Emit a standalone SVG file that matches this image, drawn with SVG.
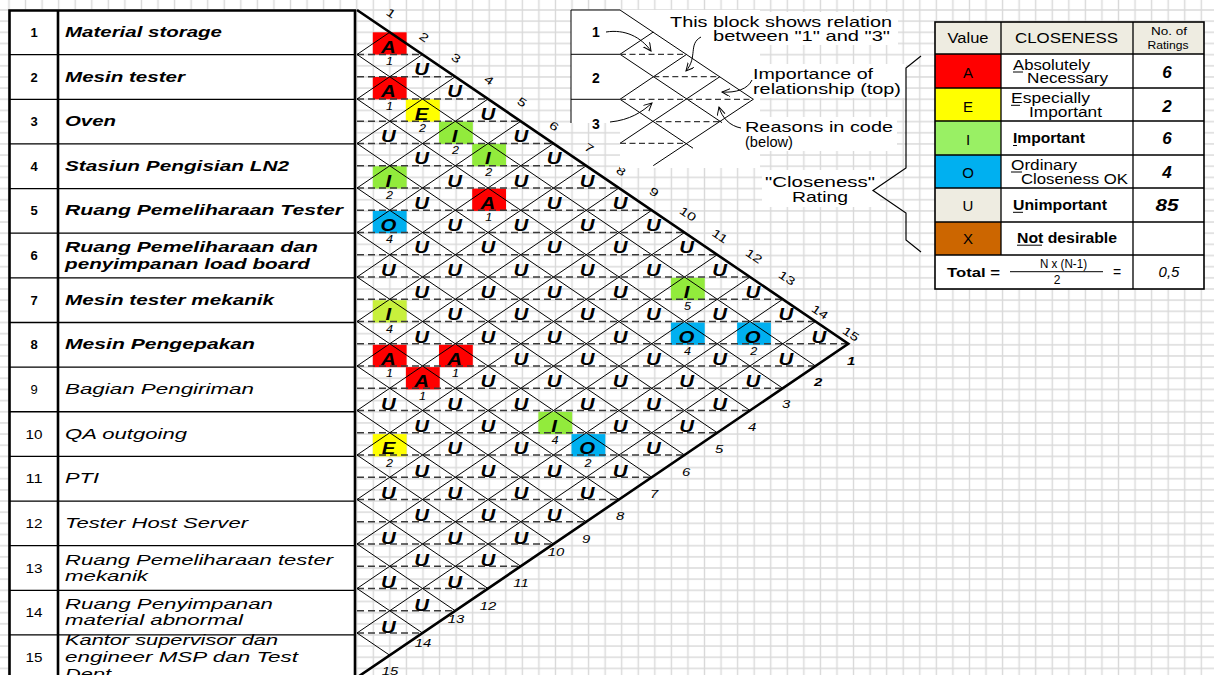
<svg xmlns="http://www.w3.org/2000/svg" width="1214" height="675" viewBox="0 0 1214 675">
<defs>
<pattern id="grid" patternUnits="userSpaceOnUse" x="365.02" y="4.42" width="16.56" height="11.16">
<path d="M8.28,0V11.16M0,5.58H16.56" stroke="#d9d9d9" stroke-width="1.4" fill="none"/>
</pattern>
<marker id="ah" markerUnits="userSpaceOnUse" markerWidth="10" markerHeight="10" refX="8" refY="4" orient="auto">
<path d="M0,0L8,4L0,8" fill="none" stroke="#000" stroke-width="1"/>
</marker>
<style>
text{font-family:"Liberation Sans",Arial,sans-serif;fill:#000}
.nm{font-size:14px;font-style:italic}
.b{font-weight:bold}
.no{font-size:13px;text-anchor:middle}
.ltr{font-size:17px;font-weight:bold;font-style:italic;text-anchor:middle}
.rsn{font-size:10.5px;font-style:italic;text-anchor:middle}
.tn{font-size:11.5px;text-anchor:middle}
.bn{font-size:11px;font-style:italic;text-anchor:middle}
.cap{font-size:15px}
.lg{font-size:14px}
.lgc{font-size:15px;text-anchor:middle}
.rt{font-size:17px;font-style:italic;font-weight:bold;text-anchor:middle}
.rti{font-style:italic;text-anchor:middle}
.thin{stroke:#000;stroke-width:1;fill:none}
.rowl{stroke:#000;stroke-width:1.3;fill:none}
.thick{stroke:#000;stroke-width:2.6;fill:none}
.dash{stroke:#3a3a3a;stroke-width:1.3;stroke-dasharray:7 4;fill:none}
.dash2{stroke:#3a3a3a;stroke-width:1.2;stroke-dasharray:6 3.5;fill:none}
.A{fill:#ff0000}.E{fill:#ffff00}.I{fill:#92eb3c}.I2{fill:#c8f03c}.O{fill:#00b0f0}
</style>
</defs>
<rect width="1214" height="675" fill="#fff"/>
<rect width="1214" height="675" fill="url(#grid)"/>

<g id="table">
<rect x="9.5" y="10.5" width="345.5" height="670" fill="#fff"/>
<path class="rowl" d="M9.5,54.64H355M9.5,99.28H355M9.5,143.92H355M9.5,188.56H355M9.5,233.2H355M9.5,277.84H355M9.5,322.48H355M9.5,367.12H355M9.5,411.76H355M9.5,456.4H355M9.5,501.04H355M9.5,545.68H355M9.5,590.32H355M9.5,634.96H355"/>
<path class="thick" d="M9.5,680V10.5H355V680M58,10.5V680"/>
<g id="row1"><text class="no b" x="34" y="36.8">1</text><text class="nm b" x="65" y="36.8" textLength="157" lengthAdjust="spacingAndGlyphs">Material storage</text></g>
<g id="row2"><text class="no b" x="34" y="81.5">2</text><text class="nm b" x="65" y="81.5" textLength="120" lengthAdjust="spacingAndGlyphs">Mesin tester</text></g>
<g id="row3"><text class="no b" x="34" y="126.1">3</text><text class="nm b" x="65" y="126.1" textLength="51" lengthAdjust="spacingAndGlyphs">Oven</text></g>
<g id="row4"><text class="no b" x="34" y="170.7">4</text><text class="nm b" x="65" y="170.7" textLength="224" lengthAdjust="spacingAndGlyphs">Stasiun Pengisian LN2</text></g>
<g id="row5"><text class="no b" x="34" y="215.4">5</text><text class="nm b" x="65" y="215.4" textLength="278" lengthAdjust="spacingAndGlyphs">Ruang Pemeliharaan Tester</text></g>
<g id="row6"><text class="no b" x="34" y="260">6</text><text class="nm b" x="65" y="252.3" textLength="253" lengthAdjust="spacingAndGlyphs">Ruang Pemeliharaan dan</text><text class="nm b" x="65" y="268.8" textLength="245" lengthAdjust="spacingAndGlyphs">penyimpanan load board</text></g>
<g id="row7"><text class="no b" x="34" y="304.7">7</text><text class="nm b" x="65" y="304.7" textLength="209" lengthAdjust="spacingAndGlyphs">Mesin tester mekanik</text></g>
<g id="row8"><text class="no b" x="34" y="349.3">8</text><text class="nm b" x="65" y="349.3" textLength="190" lengthAdjust="spacingAndGlyphs">Mesin Pengepakan</text></g>
<g id="row9"><text class="no" x="34" y="393.9">9</text><text class="nm" x="65" y="393.9" textLength="189" lengthAdjust="spacingAndGlyphs">Bagian Pengiriman</text></g>
<g id="row10"><text class="no" x="34" y="438.6" textLength="17" lengthAdjust="spacingAndGlyphs">10</text><text class="nm" x="65" y="438.6" textLength="122" lengthAdjust="spacingAndGlyphs">QA outgoing</text></g>
<g id="row11"><text class="no" x="34" y="483.2" textLength="17" lengthAdjust="spacingAndGlyphs">11</text><text class="nm" x="65" y="483.2" textLength="34" lengthAdjust="spacingAndGlyphs">PTI</text></g>
<g id="row12"><text class="no" x="34" y="527.9" textLength="17" lengthAdjust="spacingAndGlyphs">12</text><text class="nm" x="65" y="527.9" textLength="183" lengthAdjust="spacingAndGlyphs">Tester Host Server</text></g>
<g id="row13"><text class="no" x="34" y="572.5" textLength="17" lengthAdjust="spacingAndGlyphs">13</text><text class="nm" x="65" y="565" textLength="268" lengthAdjust="spacingAndGlyphs">Ruang Pemeliharaan tester</text><text class="nm" x="65" y="580.5" textLength="83" lengthAdjust="spacingAndGlyphs">mekanik</text></g>
<g id="row14"><text class="no" x="34" y="617.1" textLength="17" lengthAdjust="spacingAndGlyphs">14</text><text class="nm" x="65" y="609" textLength="208" lengthAdjust="spacingAndGlyphs">Ruang Penyimpanan</text><text class="nm" x="65" y="625" textLength="178" lengthAdjust="spacingAndGlyphs">material abnormal</text></g>
<g id="row15"><text class="no" x="34" y="661.8" textLength="17" lengthAdjust="spacingAndGlyphs">15</text><text class="nm" x="65" y="645" textLength="213" lengthAdjust="spacingAndGlyphs">Kantor supervisor dan</text><text class="nm" x="65" y="662" textLength="233" lengthAdjust="spacingAndGlyphs">engineer MSP dan Test</text><text class="nm" x="65" y="679" textLength="46" lengthAdjust="spacingAndGlyphs">Dept</text></g>
</g>

<g id="matrix">
<g id="cells">
<rect class="A" x="372.8" y="32.3" width="33.8" height="22.32"/>
<rect class="A" x="372.8" y="77" width="33.8" height="22.32"/>
<rect class="A" x="472.2" y="188.6" width="33.8" height="22.32"/>
<rect class="A" x="372.8" y="344.8" width="33.8" height="22.32"/>
<rect class="A" x="439" y="344.8" width="33.8" height="22.32"/>
<rect class="A" x="405.9" y="367.1" width="33.8" height="22.32"/>
<rect class="E" x="405.9" y="99.3" width="33.8" height="22.32"/>
<rect class="E" x="372.8" y="434.1" width="33.8" height="22.32"/>
<rect class="I" x="372.8" y="166.2" width="33.8" height="22.32"/>
<rect class="I" x="439" y="121.6" width="33.8" height="22.32"/>
<rect class="I" x="472.2" y="143.9" width="33.8" height="22.32"/>
<rect class="I2" x="372.8" y="300.2" width="33.8" height="22.32"/>
<rect class="I" x="670.9" y="277.8" width="33.8" height="22.32"/>
<rect class="I" x="538.4" y="411.8" width="33.8" height="22.32"/>
<rect class="O" x="372.8" y="210.9" width="33.8" height="22.32"/>
<rect class="O" x="670.9" y="322.5" width="33.8" height="22.32"/>
<rect class="O" x="737.1" y="322.5" width="33.8" height="22.32"/>
<rect class="O" x="571.5" y="434.1" width="33.8" height="22.32"/>
</g>
<g id="connectors">
<path class="dash" d="M357,54.5H422.5M357,76.75H455.25M357,99H488M357,121.25H520.75M357,143.5H553.5M357,165.75H586.25M357,188H619M357,210.25H651.75M357,232.5H684.5M357,254.75H717.25M357,277H750M357,299.25H782.75M357,321.5H815.5M357,343.75H848.25M357,366H815.5M357,388.25H782.75M357,410.5H750M357,432.75H717.25M357,455H684.5M357,477.25H651.75M357,499.5H619M357,521.75H586.25M357,544H553.5M357,566.25H520.75M357,588.5H488M357,610.75H455.25M357,633H422.5"/>
<path class="thin" d="M357,54.5L815.5,366M357,99L782.75,388.25M357,143.5L750,410.5M357,188L717.25,432.75M357,232.5L684.5,455M357,277L651.75,477.25M357,321.5L619,499.5M357,366L586.25,521.75M357,410.5L553.5,544M357,455L520.75,566.25M357,499.5L488,588.5M357,544L455.25,610.75M357,588.5L422.5,633M357,633L389.75,655.25"/>
<path class="thin" d="M357,54.5L389.75,32.25M357,99L422.5,54.5M357,143.5L455.25,76.75M357,188L488,99M357,232.5L520.75,121.25M357,277L553.5,143.5M357,321.5L586.25,165.75M357,366L619,188M357,410.5L651.75,210.25M357,455L684.5,232.5M357,499.5L717.25,254.75M357,544L750,277M357,588.5L782.75,299.25M357,633L815.5,321.5"/>
<path class="thick" d="M357,10L848.25,343.75L357,677.5"/>
</g>
<g id="letters" transform="scale(1.2,1)">
<text class="ltr" x="323.7" y="52.6">A</text><text class="rsn" x="324.5" y="64.9">1</text>
<text class="ltr" x="323.7" y="97.3">A</text><text class="rsn" x="324.5" y="109.6">1</text>
<text class="ltr" x="406.5" y="208.9">A</text><text class="rsn" x="407.3" y="221.2">1</text>
<text class="ltr" x="323.7" y="365.1">A</text><text class="rsn" x="324.5" y="377.4">1</text>
<text class="ltr" x="378.8" y="365.1">A</text><text class="rsn" x="379.6" y="377.4">1</text>
<text class="ltr" x="351.3" y="387.4">A</text><text class="rsn" x="352.1" y="399.7">1</text>
<text class="ltr" x="351.3" y="119.6">E</text><text class="rsn" x="352.1" y="131.9">2</text>
<text class="ltr" x="323.7" y="454.4">E</text><text class="rsn" x="324.5" y="466.7">2</text>
<text class="ltr" x="323.7" y="186.6">I</text><text class="rsn" x="324.5" y="198.9">2</text>
<text class="ltr" x="378.8" y="141.9">I</text><text class="rsn" x="379.6" y="154.2">2</text>
<text class="ltr" x="406.5" y="164.2">I</text><text class="rsn" x="407.3" y="176.5">2</text>
<text class="ltr" x="323.7" y="320.5">I</text><text class="rsn" x="324.5" y="332.8">4</text>
<text class="ltr" x="572.1" y="298.2">I</text><text class="rsn" x="572.9" y="310.5">5</text>
<text class="ltr" x="461.7" y="432.1">I</text><text class="rsn" x="462.5" y="444.4">4</text>
<text class="ltr" x="323.7" y="231.2">O</text><text class="rsn" x="324.5" y="243.5">4</text>
<text class="ltr" x="572.1" y="342.8">O</text><text class="rsn" x="572.9" y="355.1">4</text>
<text class="ltr" x="627.3" y="342.8">O</text><text class="rsn" x="628.1" y="355.1">2</text>
<text class="ltr" x="489.3" y="454.4">O</text><text class="rsn" x="490.1" y="466.7">2</text>
<text class="ltr" x="351.3" y="75">U</text>
<text class="ltr" x="378.8" y="97.3">U</text>
<text class="ltr" x="406.5" y="119.6">U</text>
<text class="ltr" x="323.7" y="141.9">U</text><text class="ltr" x="434.1" y="141.9">U</text>
<text class="ltr" x="351.3" y="164.2">U</text><text class="ltr" x="461.7" y="164.2">U</text>
<text class="ltr" x="378.8" y="186.6">U</text><text class="ltr" x="434.1" y="186.6">U</text><text class="ltr" x="489.3" y="186.6">U</text>
<text class="ltr" x="351.3" y="208.9">U</text><text class="ltr" x="461.7" y="208.9">U</text><text class="ltr" x="516.8" y="208.9">U</text>
<text class="ltr" x="378.8" y="231.2">U</text><text class="ltr" x="434.1" y="231.2">U</text><text class="ltr" x="489.3" y="231.2">U</text><text class="ltr" x="544.5" y="231.2">U</text>
<text class="ltr" x="351.3" y="253.5">U</text><text class="ltr" x="406.5" y="253.5">U</text><text class="ltr" x="461.7" y="253.5">U</text><text class="ltr" x="516.8" y="253.5">U</text><text class="ltr" x="572.1" y="253.5">U</text>
<text class="ltr" x="323.7" y="275.8">U</text><text class="ltr" x="378.8" y="275.8">U</text><text class="ltr" x="434.1" y="275.8">U</text><text class="ltr" x="489.3" y="275.8">U</text><text class="ltr" x="544.5" y="275.8">U</text><text class="ltr" x="599.7" y="275.8">U</text>
<text class="ltr" x="351.3" y="298.2">U</text><text class="ltr" x="406.5" y="298.2">U</text><text class="ltr" x="461.7" y="298.2">U</text><text class="ltr" x="516.8" y="298.2">U</text><text class="ltr" x="627.3" y="298.2">U</text>
<text class="ltr" x="378.8" y="320.5">U</text><text class="ltr" x="434.1" y="320.5">U</text><text class="ltr" x="489.3" y="320.5">U</text><text class="ltr" x="544.5" y="320.5">U</text><text class="ltr" x="599.7" y="320.5">U</text><text class="ltr" x="654.8" y="320.5">U</text>
<text class="ltr" x="351.3" y="342.8">U</text><text class="ltr" x="406.5" y="342.8">U</text><text class="ltr" x="461.7" y="342.8">U</text><text class="ltr" x="516.8" y="342.8">U</text><text class="ltr" x="682.4" y="342.8">U</text>
<text class="ltr" x="434.1" y="365.1">U</text><text class="ltr" x="489.3" y="365.1">U</text><text class="ltr" x="544.5" y="365.1">U</text><text class="ltr" x="599.7" y="365.1">U</text><text class="ltr" x="654.8" y="365.1">U</text>
<text class="ltr" x="406.5" y="387.4">U</text><text class="ltr" x="461.7" y="387.4">U</text><text class="ltr" x="516.8" y="387.4">U</text><text class="ltr" x="572.1" y="387.4">U</text><text class="ltr" x="627.3" y="387.4">U</text>
<text class="ltr" x="323.7" y="409.8">U</text><text class="ltr" x="378.8" y="409.8">U</text><text class="ltr" x="434.1" y="409.8">U</text><text class="ltr" x="489.3" y="409.8">U</text><text class="ltr" x="544.5" y="409.8">U</text><text class="ltr" x="599.7" y="409.8">U</text>
<text class="ltr" x="351.3" y="432.1">U</text><text class="ltr" x="406.5" y="432.1">U</text><text class="ltr" x="516.8" y="432.1">U</text><text class="ltr" x="572.1" y="432.1">U</text>
<text class="ltr" x="378.8" y="454.4">U</text><text class="ltr" x="434.1" y="454.4">U</text><text class="ltr" x="544.5" y="454.4">U</text>
<text class="ltr" x="351.3" y="476.7">U</text><text class="ltr" x="406.5" y="476.7">U</text><text class="ltr" x="461.7" y="476.7">U</text><text class="ltr" x="516.8" y="476.7">U</text>
<text class="ltr" x="323.7" y="499">U</text><text class="ltr" x="378.8" y="499">U</text><text class="ltr" x="434.1" y="499">U</text><text class="ltr" x="489.3" y="499">U</text>
<text class="ltr" x="351.3" y="521.4">U</text><text class="ltr" x="406.5" y="521.4">U</text><text class="ltr" x="461.7" y="521.4">U</text>
<text class="ltr" x="323.7" y="543.7">U</text><text class="ltr" x="378.8" y="543.7">U</text><text class="ltr" x="434.1" y="543.7">U</text>
<text class="ltr" x="351.3" y="566">U</text><text class="ltr" x="406.5" y="566">U</text>
<text class="ltr" x="323.7" y="588.3">U</text><text class="ltr" x="378.8" y="588.3">U</text>
<text class="ltr" x="351.3" y="610.6">U</text>
<text class="ltr" x="323.7" y="633">U</text>
</g>
<g id="top-numbers">
<text class="tn" transform="translate(391,13) rotate(34) scale(1.35,1)" y="4">1</text>
<text class="tn" transform="translate(424,37) rotate(34) scale(1.35,1)" y="4">2</text>
<text class="tn" transform="translate(456,58) rotate(34) scale(1.35,1)" y="4">3</text>
<text class="tn" transform="translate(489,80) rotate(34) scale(1.35,1)" y="4">4</text>
<text class="tn" transform="translate(522,102) rotate(34) scale(1.35,1)" y="4">5</text>
<text class="tn" transform="translate(554,126) rotate(34) scale(1.35,1)" y="4">6</text>
<text class="tn" transform="translate(589,148) rotate(34) scale(1.35,1)" y="4">7</text>
<text class="tn" transform="translate(621,171) rotate(34) scale(1.35,1)" y="4">8</text>
<text class="tn" transform="translate(654,192) rotate(34) scale(1.35,1)" y="4">9</text>
<text class="tn" transform="translate(688,214) rotate(34) scale(1.35,1)" y="4">10</text>
<text class="tn" transform="translate(720,236) rotate(34) scale(1.35,1)" y="4">11</text>
<text class="tn" transform="translate(754,256) rotate(34) scale(1.35,1)" y="4">12</text>
<text class="tn" transform="translate(787,278) rotate(34) scale(1.35,1)" y="4">13</text>
<text class="tn" transform="translate(820,312) rotate(34) scale(1.35,1)" y="4">14</text>
<text class="tn" transform="translate(851,334) rotate(34) scale(1.35,1)" y="4">15</text>
</g>
<g id="bottom-numbers">
<text class="bn b" transform="translate(851,365) scale(1.35,1)">1</text>
<text class="bn b" transform="translate(818,386) scale(1.35,1)">2</text>
<text class="bn" transform="translate(786,408) scale(1.35,1)">3</text>
<text class="bn" transform="translate(752,431) scale(1.35,1)">4</text>
<text class="bn" transform="translate(719,453) scale(1.35,1)">5</text>
<text class="bn" transform="translate(686,476) scale(1.35,1)">6</text>
<text class="bn" transform="translate(654,498) scale(1.35,1)">7</text>
<text class="bn" transform="translate(620,520) scale(1.35,1)">8</text>
<text class="bn" transform="translate(586,543) scale(1.35,1)">9</text>
<text class="bn" transform="translate(556,556) scale(1.35,1)">10</text>
<text class="bn" transform="translate(521,587) scale(1.35,1)">11</text>
<text class="bn" transform="translate(488,610) scale(1.35,1)">12</text>
<text class="bn" transform="translate(456,623) scale(1.35,1)">13</text>
<text class="bn" transform="translate(423,647) scale(1.35,1)">14</text>
<text class="bn" transform="translate(390,675) scale(1.35,1)">15</text>
</g>
</g>

<g id="explain">
<path d="M571,10H760V168H620V123H571Z" fill="#fff"/>
<rect x="665" y="12" width="233" height="33" fill="#fff"/>
<rect x="748" y="64" width="158" height="34" fill="#fff"/>
<rect x="740" y="117" width="157" height="34" fill="#fff"/>
<rect x="762" y="170" width="118" height="37" fill="#fff"/>
<path class="thin" d="M571,123V10H620M571,54.3H620M571,99.3H620"/>
<path class="thin" d="M620,10L753.3,99.3M620,54.3L653.3,32M620,54.3L722,122.6M620,99.3L686.7,54.3M620,99.3L693,148.2M620,143.3L720,76.6M653.3,165.6L753.3,99.3"/>
<path class="dash2" d="M620,54.3H686.7M653.3,76.6H720M620,99.3H753.3M656,121.7H720M620,143.3H686.7"/>
<text class="b" style="font-size:14px" x="596" y="37" text-anchor="middle">1</text>
<text class="b" style="font-size:14px" x="596" y="82.7" text-anchor="middle">2</text>
<text class="b" style="font-size:14px" x="596" y="129" text-anchor="middle">3</text>
<path class="thin" marker-end="url(#ah)" d="M606,32C625,29 641,37 651,51"/>
<path class="thin" marker-end="url(#ah)" d="M701,37C688,44 698,57 686,71"/>
<path class="thin" marker-end="url(#ah)" d="M752,80C748,89 736,93 722,92"/>
<path class="thin" marker-end="url(#ah)" d="M741,128C730,126 722,118 719,107"/>
<path class="thin" marker-end="url(#ah)" d="M610,122C630,120 642,112 652,103"/>
<text class="cap" x="670" y="27" textLength="222" lengthAdjust="spacingAndGlyphs">This block shows relation</text>
<text class="cap" x="713" y="41" textLength="177" lengthAdjust="spacingAndGlyphs">between "1" and "3"</text>
<text class="cap" x="753" y="79" textLength="120" lengthAdjust="spacingAndGlyphs">Importance of</text>
<text class="cap" x="753" y="94" textLength="148" lengthAdjust="spacingAndGlyphs">relationship (top)</text>
<text class="cap" x="745" y="131.7" textLength="148" lengthAdjust="spacingAndGlyphs">Reasons in code</text>
<text class="cap" x="745" y="146.7" textLength="48" lengthAdjust="spacingAndGlyphs">(below)</text>
<text class="cap" x="765" y="186.7" textLength="110" lengthAdjust="spacingAndGlyphs">"Closeness"</text>
<text class="cap" x="792" y="201.7" textLength="56" lengthAdjust="spacingAndGlyphs">Rating</text>
<path d="M921,56L906,68V168L873,190.5L906,213V240L921,252" fill="none" stroke="#000" stroke-width="1.2"/>
</g>

<g id="legend">
<rect x="935" y="22" width="269" height="267" fill="#fff"/>
<rect x="935" y="22" width="269" height="32" fill="#eeece1"/>
<rect x="935" y="54" width="66" height="34" fill="#ff0000"/>
<rect x="935" y="88" width="66" height="33" fill="#ffff00"/>
<rect x="935" y="121" width="66" height="34" fill="#99f064"/>
<rect x="935" y="155" width="66" height="33" fill="#00b0f0"/>
<rect x="935" y="188" width="66" height="34" fill="#eeece1"/>
<rect x="935" y="222" width="66" height="33" fill="#cc6600"/>
<path d="M935,54H1204M935,88H1204M935,121H1204M935,155H1204M935,188H1204M935,222H1204M935,255H1204M1001,22V255M1133,22V289" stroke="#000" stroke-width="1.3" fill="none"/>
<rect x="935" y="22" width="269" height="267" fill="none" stroke="#000" stroke-width="1.6"/>
<g id="lg-head">
<text class="lg" x="968" y="42.5" text-anchor="middle" textLength="41" lengthAdjust="spacingAndGlyphs">Value</text>
<text class="lg" x="1015" y="42.5" textLength="103" lengthAdjust="spacingAndGlyphs">CLOSENESS</text>
<text style="font-size:11px" x="1169" y="35" text-anchor="middle" textLength="36" lengthAdjust="spacingAndGlyphs">No. of</text>
<text style="font-size:11px" x="1168" y="49" text-anchor="middle" textLength="41" lengthAdjust="spacingAndGlyphs">Ratings</text>
</g>
<g id="lg-A">
<text class="lgc" x="968" y="78">A</text>
<text class="lg" x="1013" y="70" textLength="77" lengthAdjust="spacingAndGlyphs">Absolutely</text>
<text class="lg" x="1027" y="83.3" textLength="81" lengthAdjust="spacingAndGlyphs">Necessary</text>
<path d="M1013,72H1023" stroke="#000" stroke-width="1"/>
<text class="rt" x="1167" y="78.3">6</text>
</g>
<g id="lg-E">
<text class="lgc" x="968" y="111.7">E</text>
<text class="lg" x="1011" y="103.3" textLength="79" lengthAdjust="spacingAndGlyphs">Especially</text>
<text class="lg" x="1029" y="116.7" textLength="73" lengthAdjust="spacingAndGlyphs">Important</text>
<path d="M1011,105.3H1020" stroke="#000" stroke-width="1"/>
<text class="rt" x="1167" y="111.7">2</text>
</g>
<g id="lg-I">
<text class="lgc" x="968" y="145">I</text>
<text class="lg b" x="1013" y="143.3" textLength="72" lengthAdjust="spacingAndGlyphs">Important</text>
<path d="M1013,145.5H1017" stroke="#000" stroke-width="1"/>
<text class="rt" x="1167" y="144.3">6</text>
</g>
<g id="lg-O">
<text class="lgc" x="968" y="177.7">O</text>
<text class="lg" x="1011" y="170" textLength="66" lengthAdjust="spacingAndGlyphs">Ordinary</text>
<text class="lg" x="1021" y="184" textLength="107" lengthAdjust="spacingAndGlyphs">Closeness OK</text>
<path d="M1011,172H1022" stroke="#000" stroke-width="1"/>
<text class="rt" x="1167" y="177.7">4</text>
</g>
<g id="lg-U">
<text class="lgc" x="968" y="211">U</text>
<text class="lg b" x="1013" y="210" textLength="94" lengthAdjust="spacingAndGlyphs">Unimportant</text>
<path d="M1013,212.3H1023" stroke="#000" stroke-width="1"/>
<text class="rt" x="1167" y="211" textLength="23" lengthAdjust="spacingAndGlyphs">85</text>
</g>
<g id="lg-X">
<text class="lgc" x="968" y="244.3">X</text>
<text class="lg b" x="1017" y="242.7" textLength="100" lengthAdjust="spacingAndGlyphs">Not desirable</text>
<path d="M1017,245.2H1042" stroke="#000" stroke-width="1"/>
</g>
<g id="lg-total">
<text class="b" style="font-size:13px" x="947" y="276.7" textLength="53" lengthAdjust="spacingAndGlyphs">Total =</text>
<text style="font-size:12px" x="1040" y="268" textLength="47" lengthAdjust="spacingAndGlyphs">N x (N-1)</text>
<path d="M1010,271.7H1103" stroke="#000" stroke-width="1"/>
<text style="font-size:12px" x="1057" y="283.5" text-anchor="middle">2</text>
<text style="font-size:14px" x="1117" y="277" text-anchor="middle">=</text>
<text class="rti" style="font-size:15px" x="1169" y="277">0,5</text>
</g>
</g>
</svg>
